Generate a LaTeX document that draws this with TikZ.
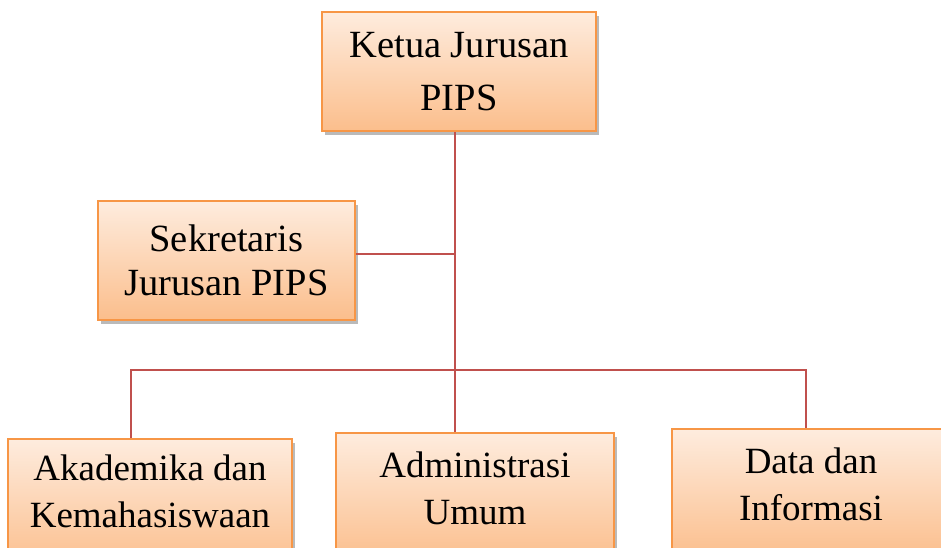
\documentclass[tikz,border=0pt]{standalone}
\usepackage{fontspec}
\setmainfont{Liberation Serif}
\usetikzlibrary{shadows}
\definecolor{boxtop}{RGB}{254,236,222}
\definecolor{boxbot}{RGB}{251,190,140}
\definecolor{boxline}{RGB}{247,150,70}
\definecolor{conn}{RGB}{192,80,77}
\tikzset{
  orgbox/.style={draw=boxline, line width=1.8pt, top color=boxtop, bottom color=boxbot,
    drop shadow={shadow xshift=3pt, shadow yshift=-4pt, fill=black!45, opacity=0.6},
    align=center, inner sep=0pt},
  topfont/.style={font=\fontsize{38.5}{53}\selectfont},
  secfont/.style={font=\fontsize{38.5}{44}\selectfont},
  botfont/.style={font=\fontsize{37}{47}\selectfont},
  link/.style={draw=conn, line width=2pt}
}
\begin{document}
\begin{tikzpicture}[x=1pt,y=-1pt]
\useasboundingbox (0,0) rectangle (941,548);
\clip (0,0) rectangle (941,548);
\node[orgbox, topfont, minimum width=274pt, minimum height=119pt] (ketua) at (459,71.5) {Ketua Jurusan\\PIPS};
\node[orgbox, secfont, minimum width=257pt, minimum height=119pt] (sek) at (226.5,260.5) {Sekretaris\\Jurusan PIPS};
\node[orgbox, botfont, text depth=26pt, minimum width=284pt, minimum height=130pt] (akad) at (150,504) {Akademika dan\\Kemahasiswaan};
\node[orgbox, botfont, text depth=20pt, minimum width=278pt, minimum height=130pt] (adm) at (475,498) {Administrasi\\Umum};
\node[orgbox, botfont, text depth=19pt, minimum width=278pt, minimum height=130pt] (data) at (811,494) {Data dan\\Informasi};
\coordinate (j1) at (455,254);
\coordinate (j2) at (455,370);
\draw[link] (ketua.south -| j1) -- (j2) -- (adm.north -| j2);
\draw[link] (sek.east |- j1) -- (j1);
\draw[link] (akad.north -| 131,0) |- (j2) -| (data.north -| 806,0);
\end{tikzpicture}
\end{document}
